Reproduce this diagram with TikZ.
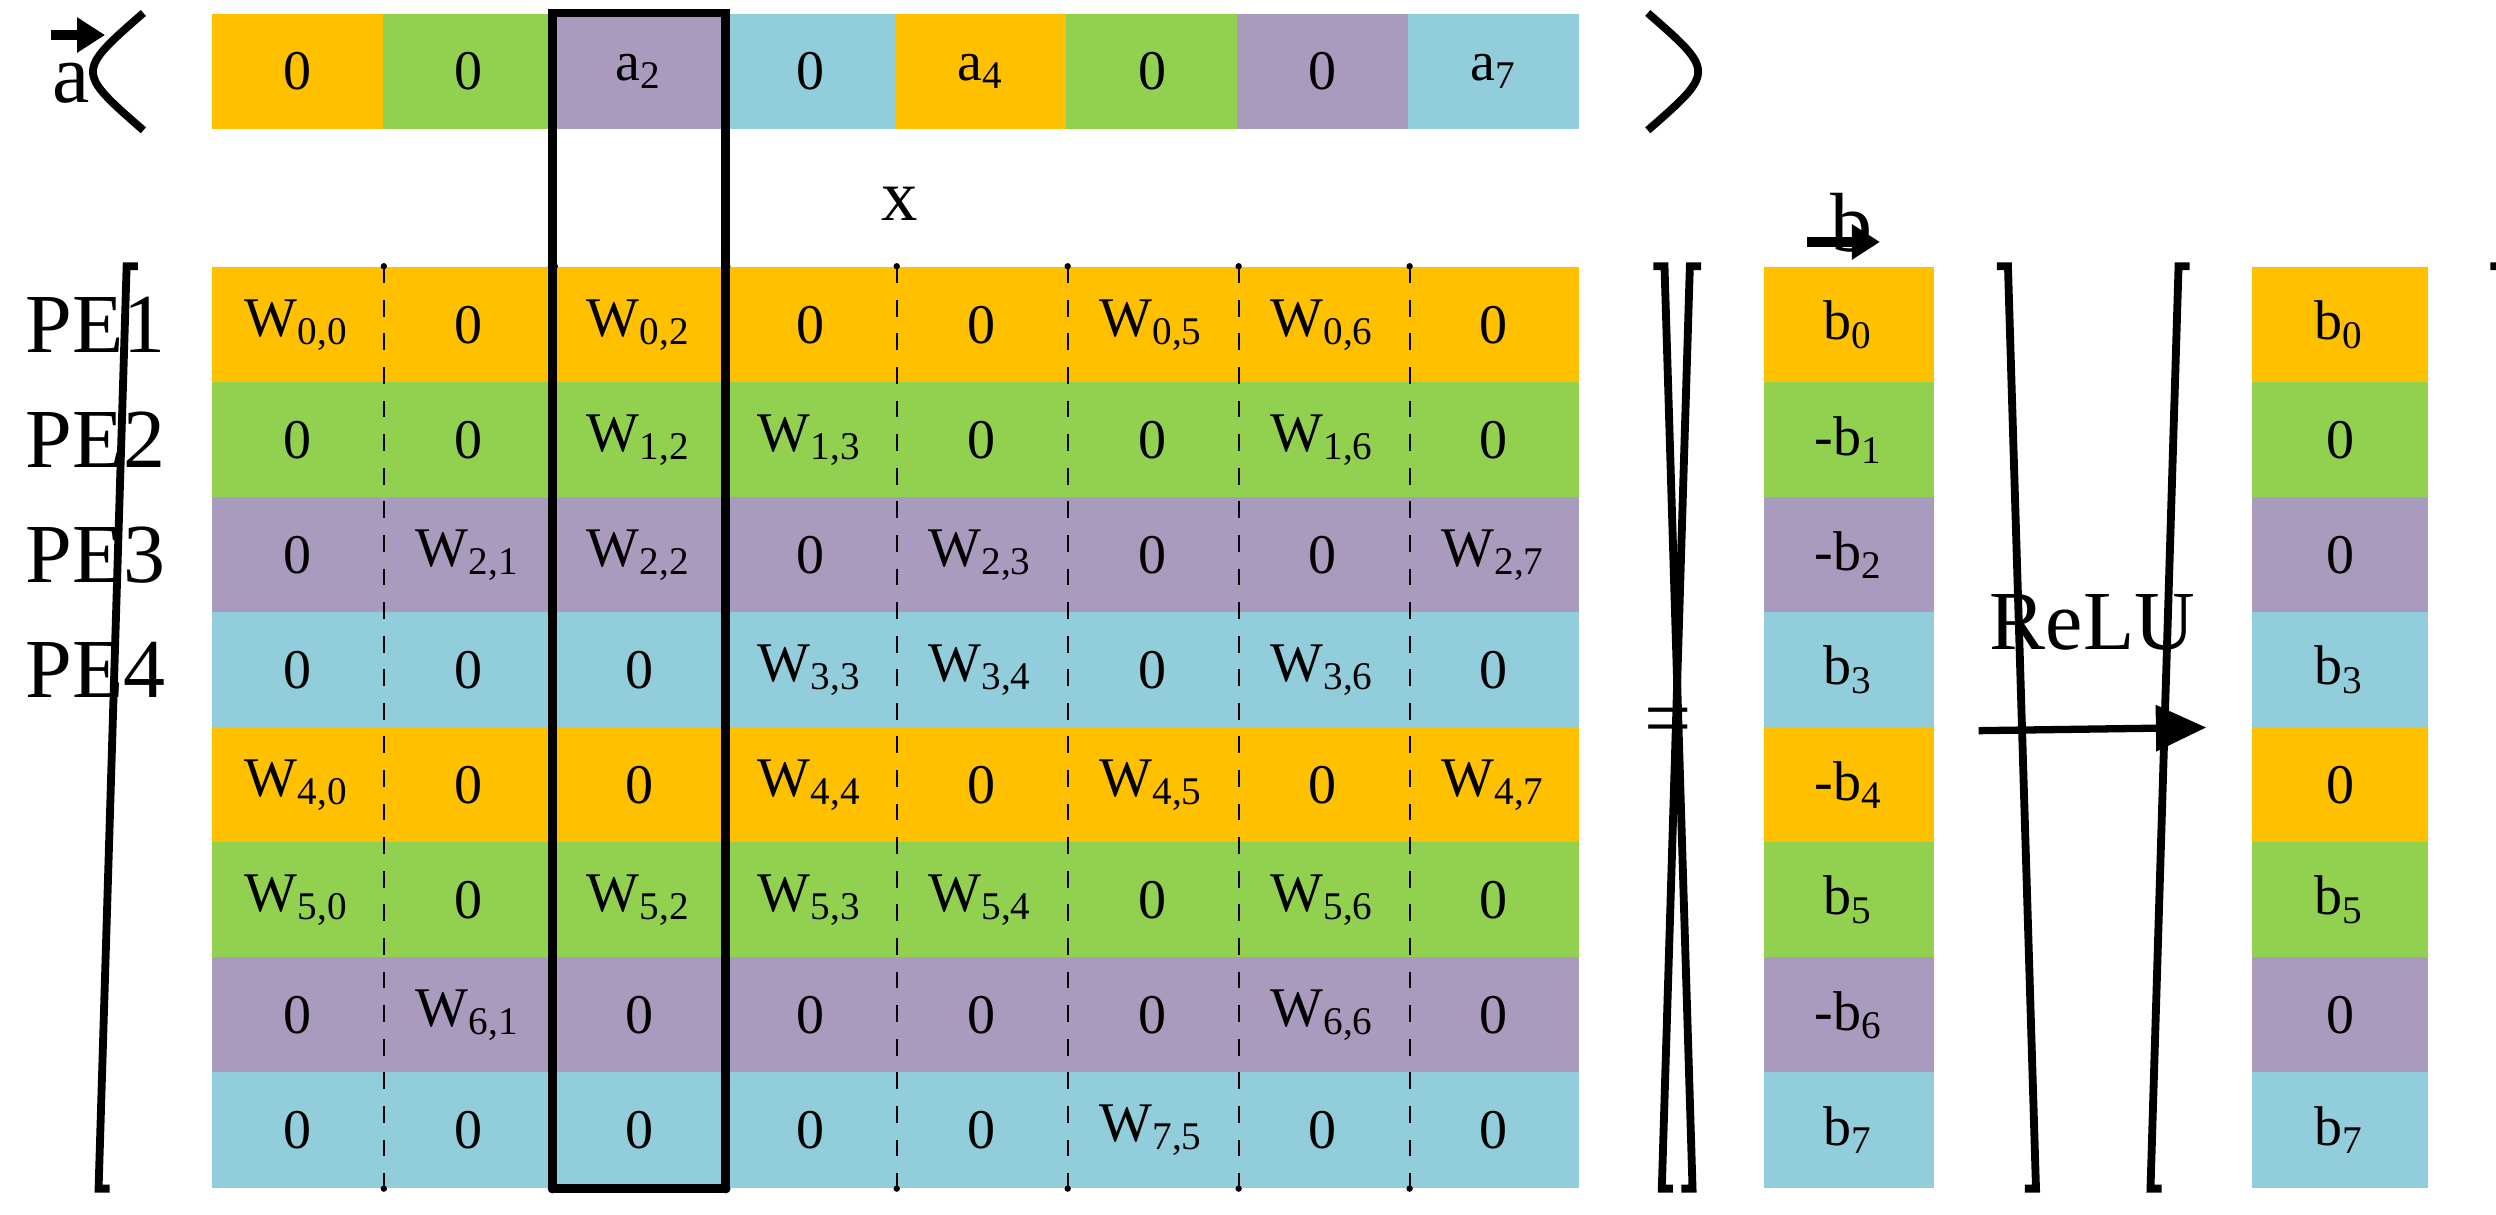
\documentclass[tikz,border=0pt]{standalone}
\usepackage{fontspec}
\setmainfont{Liberation Serif}
\usetikzlibrary{arrows.meta}
\definecolor{cc0}{HTML}{FFC000}
\definecolor{cc1}{HTML}{92D050}
\definecolor{cc2}{HTML}{A99BBD}
\definecolor{cc3}{HTML}{92CDDC}
\newcommand\wt[2]{W\textsubscript{#1,#2}}
\newcommand\ve[2]{#1\textsubscript{#2}}

\begin{document}
\begin{tikzpicture}[x=0.01cm, y=-0.01cm,
cell/.style = {inner sep=0pt, minimum width=1.074cm, minimum height=0.7225cm, font=\fontsize{10}{12}\selectfont},
brack/.style = {line width=1.4pt},
vecarrow/.style = {line width=1.8pt, -{Triangle[length=5pt, width=6pt]}},
]
\useasboundingbox (0,0) rectangle (1568,763);

% Vector a
\foreach \t [count=\c, evaluate=\c as \k using {int(mod(\c-1,4))}] in {0,0,\ve a2,0,\ve a4,0,0,\ve a7}
  \node[cell, fill=cc\k] (a-\c) at (186.7+107.4*\c-107.4,45) {\t};
\draw[brack] ([xshift=-12]a-1.north west) .. controls ([xshift=-24]a-1.west) .. ([xshift=-12]a-1.south west);
\draw[brack] ([xshift=12]a-8.north east) .. controls ([xshift=24]a-8.east) .. ([xshift=12]a-8.south east);
\node[font=\fontsize{15}{18}\selectfont] (alab) at (45,52) {a};
\coordinate (aarr) at (32,22);
\draw[vecarrow] (aarr) -- ++(34,0);

\node[font=\fontsize{13}{16}\selectfont] (times) at (565,128) {x};

% Matrix W
\foreach \row [count=\r, evaluate=\r as \k using {int(mod(\r-1,4))}] in {
  {\wt00,0,\wt02,0,0,\wt05,\wt06,0},
  {0,0,\wt12,\wt13,0,0,\wt16,0},
  {0,\wt21,\wt22,0,\wt23,0,0,\wt27},
  {0,0,0,\wt33,\wt34,0,\wt36,0},
  {\wt40,0,0,\wt44,0,\wt45,0,\wt47},
  {\wt50,0,\wt52,\wt53,\wt54,0,\wt56,0},
  {0,\wt61,0,0,0,0,\wt66,0},
  {0,0,0,0,0,\wt75,0,0}}
  \foreach \t [count=\c] in \row
    \node[cell, fill=cc\k] (m-\r-\c) at (186.7+107.4*\c-107.4,204.1+72.25*\r-72.25) {\t};

% dashed separators
\foreach \c in {1,2,4,5,6,7} {
  \draw[dashed, thin] (m-1-\c.north east) -- (m-8-\c.south east);
  \fill (m-1-\c.north east) circle (2) (m-8-\c.south east) circle (2);
}
% highlighted column
\draw[line width=1.6pt] (m-8-3.south west) -- (a-3.north west) -- (a-3.north east) -- (m-8-3.south east);
\draw[line width=1.6pt] (m-8-3.south west) -- (m-8-3.south east);
\fill (m-1-3.north west) circle (3) (m-1-3.north east) circle (3)
      (m-8-3.south west) circle (3) (m-8-3.south east) circle (3);

\draw[brack] ([xshift=-13]m-1-1.north west) -- ++(-7,0) -- ([xshift=-20]m-8-1.south west) -- ++(7,0);
\draw[brack] ([xshift=13]m-1-8.north east) -- ++(7,0) -- ([xshift=20]m-8-8.south east) -- ++(-7,0);

\foreach \r in {1,...,4}
  \node[font=\fontsize{15}{18}\selectfont] (pe-\r) at (60,204.1+72.25*\r-72.25) {PE\r};

\node[font=\fontsize{15}{18}\selectfont] (eq) at (1048,457) {=};

% Vector b
\foreach \t [count=\r, evaluate=\r as \k using {int(mod(\r-1,4))}] in {\ve b0,-\ve b1,-\ve b2,\ve b3,-\ve b4,\ve b5,-\ve b6,\ve b7}
  \node[cell, fill=cc\k, minimum width=1.07cm] (b-\r) at (1161.5,204.1+72.25*\r-72.25) {\t};
\draw[brack] ([xshift=-11]b-1.north west) -- ++(-7,0) -- ([xshift=-18]b-8.south west) -- ++(7,0);
\draw[brack] ([xshift=11]b-1.north east) -- ++(7,0) -- ([xshift=18]b-8.south east) -- ++(-7,0);
\node[font=\fontsize{15}{18}\selectfont] (blab) at (1163,140) {b};
\coordinate (barr) at (1135,152);
\draw[vecarrow] (barr) -- ++(46,0);

% Result
\foreach \t [count=\r, evaluate=\r as \k using {int(mod(\r-1,4))}] in {\ve b0,0,0,\ve b3,0,\ve b5,0,\ve b7}
  \node[cell, fill=cc\k, minimum width=1.1cm] (y-\r) at (1470,204.1+72.25*\r-72.25) {\t};
\draw[brack] ([xshift=-11]y-1.north west) -- ++(-7,0) -- ([xshift=-18]y-8.south west) -- ++(7,0);
\draw[brack] ([xshift=11]y-1.north east) -- ++(7,0) -- ([xshift=18]y-8.south east) -- ++(-7,0);

\coordinate (rfrom) at (1243,459);
\coordinate (rto) at (1386,457);
\draw[line width=1.3pt, -{Triangle[length=9pt, width=8pt]}] (rfrom) -- (rto)
  node[midway, above=10pt, font=\fontsize{15}{18}\selectfont] {ReLU};
\end{tikzpicture}
\end{document}
